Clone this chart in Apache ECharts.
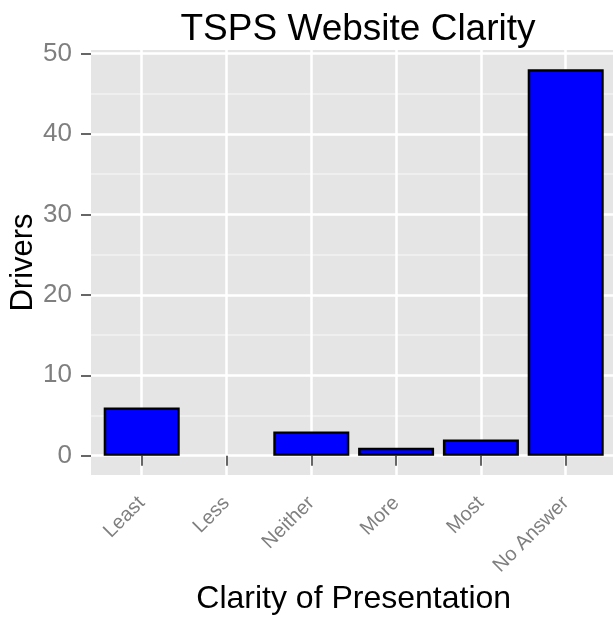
<!DOCTYPE html>
<html>
<head>
<meta charset="utf-8">
<title>TSPS Website Clarity</title>
<script src="https://cdn.jsdelivr.net/npm/echarts@6/dist/echarts.min.js"></script>
<style>
  html, body { margin: 0; padding: 0; background: #fff; }
  #chart { width: 613px; height: 617px; }
</style>
</head>
<body>
<div id="chart"></div>
<script>
// 数据
const categories = ['Least', 'Less', 'Neither', 'More', 'Most', 'No Answer']
const drivers = [6, null, 3, 1, 2, 48]

const font = 'Liberation Sans, Arial, sans-serif'
const grey = '#7f7f7f'

const chart = echarts.init(document.getElementById('chart'))

const option = {
  backgroundColor: '#fff',
  animation: false,
  title: {
    text: 'TSPS Website Clarity',
    left: 353,
    textAlign: 'center',
    top: 6,
    textStyle: { fontFamily: font, fontSize: 37, fontWeight: 'normal', color: '#000' }
  },
  grid: [
    // 面板背景
    { left: 91, right: -4, top: 50, bottom: 142, show: true, backgroundColor: '#e5e5e5', borderWidth: 0, outerBoundsMode: 'none' },
    // y 轴刻度 + 横向网格线 (0..50)
    { left: 91, right: -4, top: 53.5, bottom: 161.3, outerBoundsMode: 'none' },
    // 柱子 + x 轴
    { left: 141.7, right: 47.3, top: 50, bottom: 142, outerBoundsMode: 'none' }
  ],
  xAxis: [
    { gridIndex: 0, type: 'value', show: false },
    { gridIndex: 1, type: 'value', show: false },
    {
      gridIndex: 2,
      type: 'category',
      data: categories,
      boundaryGap: false,
      axisLine: { show: false },
      axisTick: { show: true, length: 10, lineStyle: { color: '#666', width: 2 } },
      axisLabel: {
        rotate: 45,
        margin: 25,
        color: grey,
        fontFamily: font,
        fontSize: 20
      },
      splitLine: { show: true, lineStyle: { color: '#fff', width: 2.5 } },
      name: 'Clarity of Presentation',
      nameLocation: 'middle',
      nameGap: 105,
      nameTextStyle: { fontFamily: font, fontSize: 32, color: '#000' }
    }
  ],
  yAxis: [
    { gridIndex: 0, type: 'value', show: false },
    {
      gridIndex: 1,
      type: 'value',
      min: 0,
      max: 50,
      interval: 10,
      axisLine: { show: false },
      axisTick: { show: true, length: 10, lineStyle: { color: '#666', width: 2 } },
      axisLabel: { margin: 19, color: grey, fontFamily: font, fontSize: 26 },
      splitLine: { show: true, lineStyle: { color: '#fff', width: 2.5 } },
      minorTick: { show: false, splitNumber: 2 },
      minorSplitLine: { show: true, lineStyle: { color: '#f2f2f2', width: 1.5 } }
    },
    {
      gridIndex: 2,
      type: 'value',
      min: -2.4,
      max: 50.4,
      axisLine: { show: false },
      axisTick: { show: false },
      axisLabel: { show: false },
      splitLine: { show: false },
      name: 'Drivers',
      nameLocation: 'middle',
      nameGap: 103,
      nameTextStyle: { fontFamily: font, fontSize: 31, color: '#000' }
    }
  ],
  series: [
    {
      type: 'bar',
      xAxisIndex: 2,
      yAxisIndex: 2,
      data: drivers,
      barWidth: 76,
      clip: false,
      itemStyle: { color: '#0000ff', borderColor: '#000', borderWidth: 2.5 }
    }
  ]
}

chart.setOption(option)
</script>
</body>
</html>
